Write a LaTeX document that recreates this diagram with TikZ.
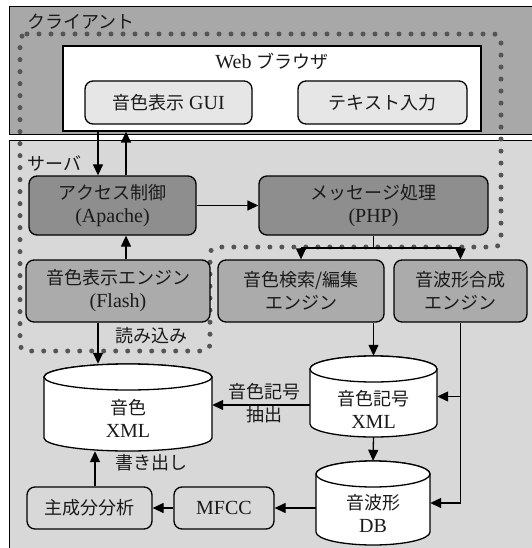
\documentclass[tikz,border=0pt]{standalone}
\usepackage{fontspec}
\setmainfont{Liberation Serif}
\newfontfamily\jpf{Noto Sans CJK JP}
\usetikzlibrary{arrows.meta}
\newcommand\jp[1]{{\jpf\fontsize{18}{23}\selectfont #1}}
\definecolor{clientbg}{HTML}{A8A8A8}
\definecolor{serverbg}{HTML}{D8D8D8}
\definecolor{darkbox}{HTML}{8E8E8E}
\definecolor{midbox}{HTML}{ABABAB}
\definecolor{lightbox}{HTML}{E6E6E6}
\definecolor{dotc}{HTML}{555555}
\definecolor{txtc}{HTML}{1A1A1A}
\newcommand\cylshape[5]{%
  \filldraw[cyl] (#1-#4,#2+#5) -- (#1-#4,#3-#5) arc[start angle=180,end angle=360,x radius=#4pt,y radius=#5pt] -- (#1+#4,#2+#5) arc[start angle=0,end angle=180,x radius=#4pt,y radius=#5pt] -- cycle;
  \draw[cyl] (#1,#2+#5) ellipse[x radius=#4pt,y radius=#5pt];
}
\begin{document}
\begin{tikzpicture}[x=1pt,y=-1pt,
  every node/.style={font=\fontsize{20}{23}\selectfont, text=txtc, align=center, inner sep=0pt},
  box/.style={draw, line width=1.3pt, rounded corners=8pt},
  cyl/.style={draw, fill=white, line width=1.3pt},
  arr/.style={line width=1.3pt, -{Triangle[length=11pt,width=10pt]}},
  ln/.style={line width=1.3pt},
  dots/.style={dotc, line width=5pt, line cap=round, dash pattern=on 0pt off 12pt, rounded corners=7pt}]
\useasboundingbox (0,0) rectangle (531,548);
\fill[white] (0,0) rectangle (531,548);
% regions
\node[draw, fill=clientbg, line width=0.9pt, minimum width=600pt, minimum height=128pt, anchor=north west] (client) at (9,6) {};
\node[draw, fill=serverbg, line width=0.9pt, minimum width=600pt, minimum height=440pt, anchor=north west] (server) at (9,140) {};
\node[anchor=west] (clabel) at (27,22) {\jp{クライアント}};
\node[anchor=west] (slabel) at (27,164) {\jp{サーバ}};
% dotted boundary
\draw[dots] (20,34) -- (501,34) -- (501,247) -- (210,247) -- (210,351) -- (20,351) -- cycle;
% browser
\node[draw, fill=white, line width=1.3pt, minimum width=418pt, minimum height=85pt] (browser) at (272,88.5) {};
\node (browsert) at (272,61) {Web \jp{ブラウザ}};
\node[box, fill=lightbox, minimum width=167pt, minimum height=43pt] (gui) at (168.5,102.5) {\jp{音色表示} GUI};
\node[box, fill=lightbox, minimum width=169pt, minimum height=43pt] (txt) at (382.5,102.5) {\jp{テキスト入力}};
% server boxes
\node[box, fill=darkbox, minimum width=167pt, minimum height=59pt] (access) at (112.5,205.5) {\jp{アクセス制御}\\(Apache)};
\node[box, fill=darkbox, minimum width=229pt, minimum height=59pt] (msg) at (373.5,205.5) {\jp{メッセージ処理}\\(PHP)};
\node[box, fill=midbox, minimum width=184pt, minimum height=62pt] (flash) at (118,291) {\jp{音色表示エンジン}\\(Flash)};
\node[box, fill=midbox, minimum width=166pt, minimum height=62pt] (search) at (301,291) {\jp{音色検索/編集}\\\jp{エンジン}};
\node[box, fill=midbox, minimum width=133pt, minimum height=62pt] (synth) at (460.5,291) {\jp{音波形合成}\\\jp{エンジン}};
% cylinders
\cylshape{128}{364}{451}{84}{13}
\node[minimum width=168pt, minimum height=87pt] (xml1) at (128,407.5) {};
\node (xml1t) at (128,418) {\jp{音色}\\XML};
\cylshape{373.5}{356}{437}{63.5}{13}
\node[minimum width=127pt, minimum height=81pt] (xml2) at (373.5,396.5) {};
\node (xml2t) at (373.5,409) {\jp{音色記号}\\XML};
\cylshape{373}{461}{545}{57}{13}
\node[minimum width=114pt, minimum height=84pt] (db) at (373,503) {};
\node (dbt) at (373,513.5) {\jp{音波形}\\DB};
\node[box, fill=serverbg, minimum width=100pt, minimum height=42pt] (mfcc) at (224,508) {MFCC};
\node[box, fill=serverbg, minimum width=125pt, minimum height=42pt] (pca) at (89.5,508) {\jp{主成分分析}};
% connectors
\draw[arr] ([xshift=-14.5pt]access.north |- browser.south) -- ([xshift=-14.5pt]access.north);
\draw[arr] ([xshift=13.5pt]access.north) -- ([xshift=13.5pt]access.north |- browser.south);
\draw[arr] (access.east) -- (msg.west);
\coordinate (bus) at (373.5,248);
\draw[ln] (msg.south) -- (bus);
\draw[ln] (search.north |- bus) -- (synth.north |- bus);
\draw[arr] (search.north |- bus) -- (search.north);
\draw[arr] (synth.north |- bus) -- (synth.north);
\draw[arr] ([xshift=8pt]flash.north) -- ([xshift=8pt]flash.north |- access.south);
\draw[arr] ([xshift=-20pt]flash.south) -- ([xshift=-20pt]flash.south |- xml1.north);
\node (readlbl) at (151,336) {\jp{読み込み}};
\draw[arr] (xml2.north |- search.south) -- (xml2.north);
\draw[arr] ([yshift=-8.5pt]xml2.west) -- ([yshift=-8.5pt]xml2.west -| xml1.east);
\node (lbl1) at (264,392) {\jp{音色記号}};
\node (lbl2) at (264,415) {\jp{抽出}};
\draw[arr] (synth.south) |- (db.east);
\draw[arr] (synth.south |- xml2.east) -- (xml2.east);
\draw[arr] (xml2.south) -- (db.north);
\draw[arr] (db.west |- mfcc.east) -- (mfcc.east);
\draw[arr] (mfcc.west) -- (pca.east);
\draw[arr] ([xshift=5.5pt]pca.north) -- ([xshift=5.5pt]pca.north |- xml1.south);
\node (writelbl) at (151,463) {\jp{書き出し}};
\end{tikzpicture}
\end{document}
